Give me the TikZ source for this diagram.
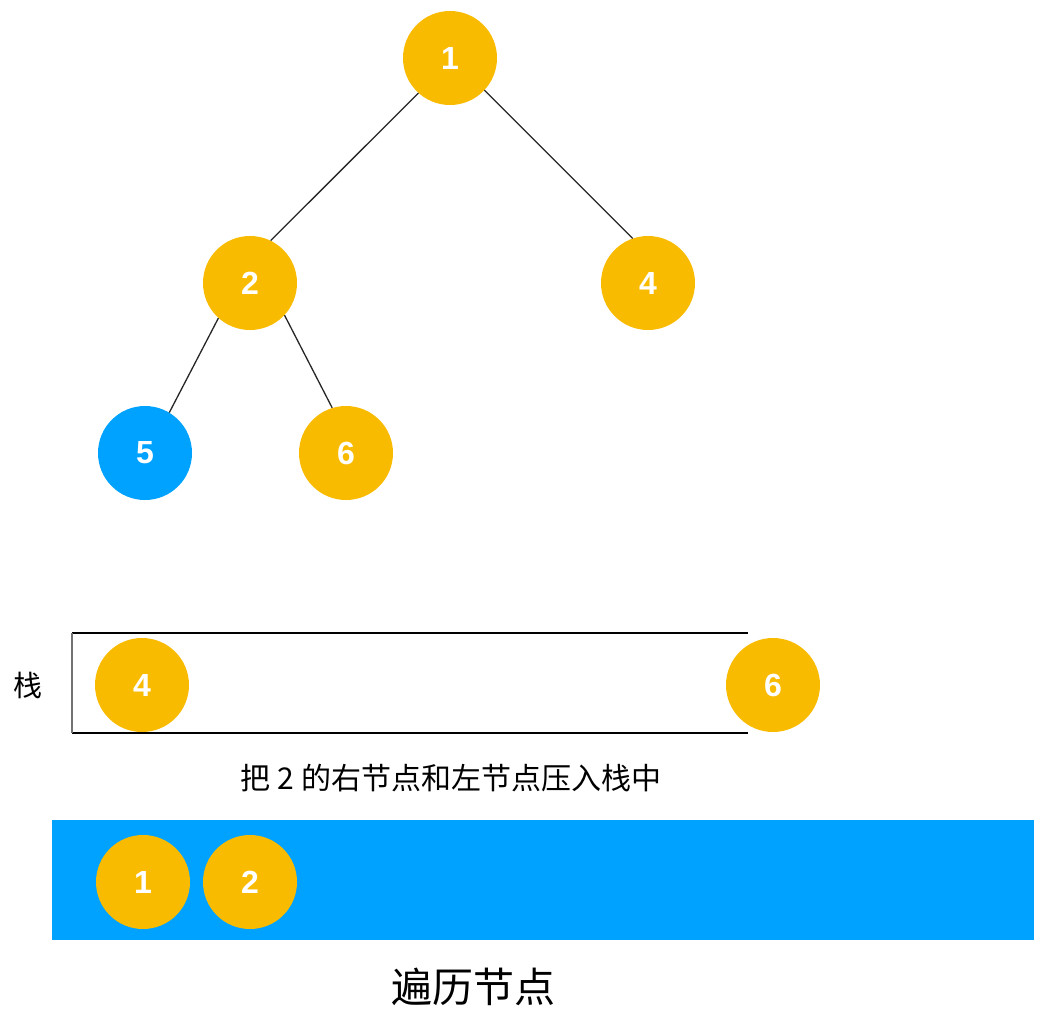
\documentclass[tikz,border=0pt]{standalone}
\usepackage{fontspec}
\setmainfont{Liberation Sans}
\newfontfamily\cjk{Noto Sans CJK SC}
\usetikzlibrary{positioning}
\definecolor{ballorange}{HTML}{F9BB00}
\definecolor{ballblue}{HTML}{00A2FF}
\begin{document}
\begin{tikzpicture}[x=1pt, y=-1pt,
    ball/.style={circle, fill=ballorange, minimum size=94pt, inner sep=0pt, text=white, font=\fontsize{32}{32}\selectfont\bfseries},
    edge/.style={draw=black!85, line width=1.3pt}]
    \useasboundingbox (0,0) rectangle (1053,1020);
    % Tree
    \node[ball] (n1) at (450,58) {1};
    \node[ball] (n2) at (250,283) {2};
    \node[ball] (n4) at (648,283) {4};
    \node[ball, fill=ballblue] (n5) at (145,453) {5};
    \node[ball] (n6) at (346,453) {6};
    \draw[edge] (n1.228) -- (n2.64);
    \draw[edge] (n1.317) -- (n4.109);
    \draw[edge] (n2.228) -- (n5.59);
    \draw[edge] (n2.317) -- (n6.107);

    % Stack
    \coordinate (stl) at (72,633);
    \coordinate (str) at (748,633);
    \coordinate (sbl) at (72,733);
    \coordinate (sbr) at (748,733);
    \draw[line width=1.5pt] (stl) -- (str);
    \draw[line width=1.5pt] (sbl) -- (sbr);
    \draw[line width=2pt, draw=black!55] (stl) -- (sbl);
    \node[font=\cjk\fontsize{29}{29}\selectfont] (slabel) at (28,685) {栈};
    \node[ball] (s4) at (142,685) {4};
    \node[ball] (s6) at (773,685) {6};
    \node[font=\cjk\fontsize{30}{30}\selectfont] (push) at (451,778) {把 2 的右节点和左节点压入栈中};

    % Visited
    \node[fill=ballblue, minimum width=982pt, minimum height=120pt, inner sep=0pt, anchor=north west] (vbar) at (52,820) {};
    \node[ball] (v1) at (143,882) {1};
    \node[ball] (v2) at (250,882) {2};
    \node[font=\cjk\fontsize{41}{41}\selectfont] (vlabel) at (473,987) {遍历节点};
\end{tikzpicture}
\end{document}
